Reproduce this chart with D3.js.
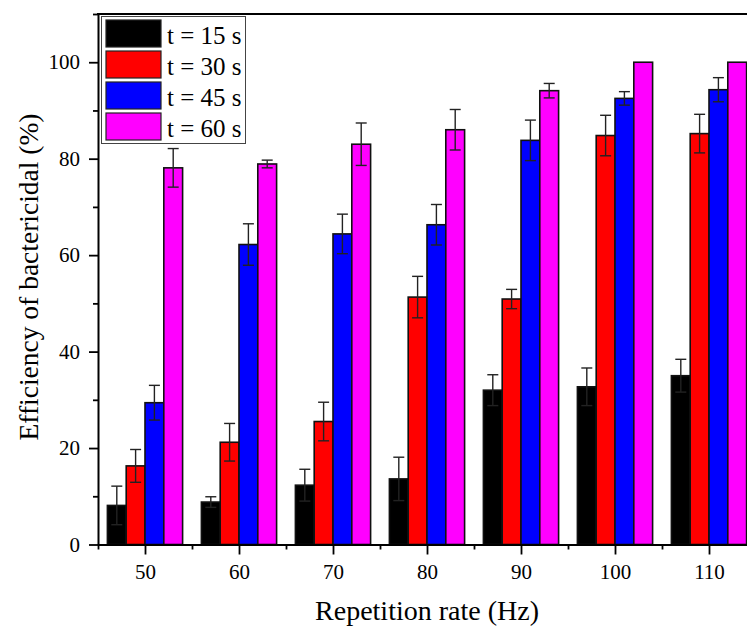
<!DOCTYPE html>
<html>
<head>
<meta charset="utf-8">
<script src="https://cdn.jsdelivr.net/npm/d3@7"></script>
<style>
  html, body { margin: 0; padding: 0; background: #fff; }
  svg { display: block; }
  text { font-family: "Liberation Serif", "Times New Roman", serif; fill: #000; }
</style>
</head>
<body>
<svg id="chart" width="747" height="628"></svg>
<script>
// ---- data ----
const categories = [50, 60, 70, 80, 90, 100, 110];
const seriesNames = ["t = 15 s", "t = 30 s", "t = 45 s", "t = 60 s"];
const seriesColors = ["#000000", "#ff0000", "#0000ff", "#ff00ff"];
const t15 = [8.1, 8.8, 12.3, 13.6, 32.0, 32.7, 35.0];
const t15err = [4.0, 1.1, 3.3, 4.5, 3.2, 3.9, 3.4];
const t30 = [16.3, 21.2, 25.5, 51.3, 50.9, 84.8, 85.2];
const t30err = [3.4, 3.9, 4.0, 4.3, 2.0, 4.2, 4.0];
const t45 = [29.4, 62.2, 64.4, 66.3, 83.8, 92.5, 94.3];
const t45err = [3.6, 4.3, 4.1, 4.2, 4.2, 1.4, 2.5];
const t60 = [78.1, 78.9, 83.0, 86.0, 94.1, 100, 100];
const t60err = [4.0, 0.8, 4.4, 4.2, 1.5, 0, 0];
const yTicks = [0, 20, 40, 60, 80, 100];

const seriesVals = [t15, t30, t45, t60];
const seriesErr = [t15err, t30err, t45err, t60err];

const svg = d3.select("#chart");
const x = d3.scaleLinear().domain([45, 115]).range([98, 756]);
const y = d3.scaleLinear().domain([0, 110]).range([544.5, 14]);
const barW = 2; // in data units

const plot = svg.append("g");

// bars and error bars
seriesVals.forEach((vals, s) => {
  const g = plot.append("g");
  categories.forEach((c, i) => {
    const x0 = c - 4 + s * barW;
    g.append("rect")
      .attr("x", x(x0))
      .attr("y", y(vals[i]))
      .attr("width", x(x0 + barW) - x(x0))
      .attr("height", y(0) - y(vals[i]))
      .attr("fill", seriesColors[s])
      .attr("stroke", "#111")
      .attr("stroke-width", 1.6);
    const e = seriesErr[s][i];
    if (e > 0) {
      const cx = x(x0 + barW / 2);
      const eg = g.append("g").attr("stroke", "#222").attr("stroke-width", 1.4);
      eg.append("line").attr("x1", cx).attr("x2", cx).attr("y1", y(vals[i] + e)).attr("y2", y(vals[i] - e));
      eg.append("line").attr("x1", cx - 5.5).attr("x2", cx + 5.5).attr("y1", y(vals[i] + e)).attr("y2", y(vals[i] + e));
      eg.append("line").attr("x1", cx - 5.5).attr("x2", cx + 5.5).attr("y1", y(vals[i] - e)).attr("y2", y(vals[i] - e));
    }
  });
});

// axes
const xAxis = d3.axisBottom(x).tickValues(categories).tickSizeInner(10).tickSizeOuter(0).tickPadding(10).tickFormat(d3.format("d"));
const xMinor = d3.axisBottom(x).tickValues([45, 55, 65, 75, 85, 95, 105, 115]).tickSize(5).tickFormat("");
const yAxis = d3.axisLeft(y).tickValues(yTicks).tickSizeInner(9).tickSizeOuter(0).tickPadding(9);
const yMinor = d3.axisLeft(y).tickValues([10, 30, 50, 70, 90, 110]).tickSize(5).tickFormat("");

function styleAxis(g) {
  g.selectAll("path").attr("stroke", "#000").attr("stroke-width", 2);
  g.selectAll("line").attr("stroke", "#000").attr("stroke-width", 1.8);
  g.selectAll("text").style("font-family", '"Liberation Serif", "Times New Roman", serif').style("font-size", "21px").attr("fill", "#000");
}
svg.append("g").attr("transform", `translate(0,${y(0)})`).call(xAxis).call(styleAxis);
svg.append("g").attr("transform", `translate(0,${y(0)})`).call(xMinor).call(styleAxis).select("path").remove();
svg.append("g").attr("transform", `translate(${x(45)},0)`).call(yAxis).call(styleAxis);
svg.append("g").attr("transform", `translate(${x(45)},0)`).call(yMinor).call(styleAxis).select("path").remove();

// top border
svg.append("line").attr("x1", x(45) - 1).attr("x2", 747).attr("y1", y(110)).attr("y2", y(110))
  .attr("stroke", "#000").attr("stroke-width", 2);

// axis titles
svg.append("text").attr("x", 427).attr("y", 620).attr("text-anchor", "middle")
  .style("font-size", "28px").text("Repetition rate (Hz)");
svg.append("text").attr("transform", `translate(38,${277}) rotate(-90)`).attr("text-anchor", "middle")
  .style("font-size", "27.5px").text("Efficiency of bactericidal (%)");

// legend
const lg = svg.append("g");
lg.append("rect").attr("x", 101.5).attr("y", 16.5).attr("width", 144).attr("height", 127)
  .attr("fill", "#fff").attr("stroke", "#444").attr("stroke-width", 1);
seriesNames.forEach((n, i) => {
  const yy = 20 + i * 31;
  lg.append("rect").attr("x", 106).attr("y", yy).attr("width", 55).attr("height", 27)
    .attr("fill", seriesColors[i]).attr("stroke", "#222").attr("stroke-width", 1.2);
  lg.append("text").attr("x", 167).attr("y", yy + 24).style("font-size", "25px").text(n);
});
</script>
</body>
</html>
